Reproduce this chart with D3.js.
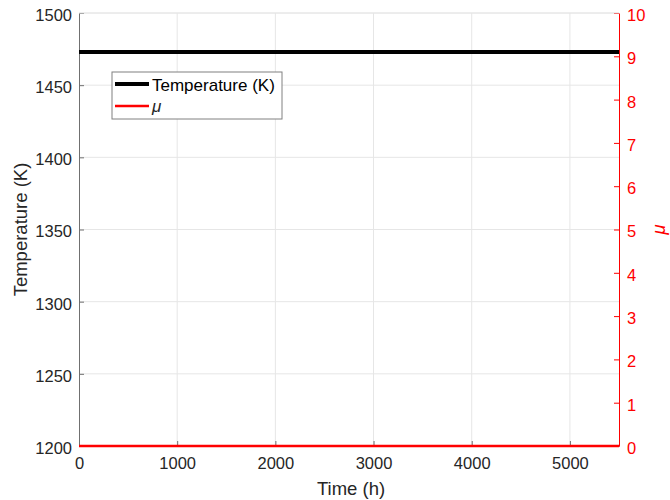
<!DOCTYPE html>
<html>
<head>
<meta charset="utf-8">
<script src="https://cdn.jsdelivr.net/npm/d3@7"></script>
<style>
  body { margin: 0; background: #fff; }
  text { font-family: "Liberation Sans", Arial, sans-serif; }
</style>
</head>
<body>
<div id="canvas"></div>
<script>
"use strict";

// Data
let timeHours = [0, 1000, 2000, 3000, 4000, 5000, 5500];
let temperatureK = [1473, 1473, 1473, 1473, 1473, 1473, 1473];
let muValues = [0, 0, 0, 0, 0, 0, 0];
let xTicks = [0, 1000, 2000, 3000, 4000, 5000];
let yLeftTicks = [1200, 1250, 1300, 1350, 1400, 1450, 1500];
let yRightTicks = [0, 1, 2, 3, 4, 5, 6, 7, 8, 9, 10];

let svgWidth = 670;
let svgHeight = 500;
let margin = { top: 13, right: 51, bottom: 54, left: 79 };
let chartWidth = svgWidth - margin.left - margin.right;
let chartHeight = svgHeight - margin.top - margin.bottom;

let svg = d3.select("#canvas")
  .append("svg")
  .attr("width", svgWidth)
  .attr("height", svgHeight);

let chartArea = svg.append("g")
  .attr("transform", "translate(" + margin.left + "," + margin.top + ")");

// Scales
let xScale = d3.scaleLinear().domain([0, 5500]).range([0, chartWidth]);
let yLeft = d3.scaleLinear().domain([1200, 1500]).range([chartHeight, 0]);
let yRight = d3.scaleLinear().domain([0, 10]).range([chartHeight, 0]);

// Grid
let gridColor = "#e6e6e6";
chartArea.append("g")
  .selectAll("line")
  .data(xTicks.slice(1))
  .enter().append("line")
  .attr("x1", d => xScale(d)).attr("x2", d => xScale(d))
  .attr("y1", 0).attr("y2", chartHeight)
  .attr("stroke", gridColor).attr("stroke-width", 1);
chartArea.append("g")
  .selectAll("line")
  .data(yLeftTicks.slice(1))
  .enter().append("line")
  .attr("x1", 0).attr("x2", chartWidth)
  .attr("y1", d => yLeft(d)).attr("y2", d => yLeft(d))
  .attr("stroke", gridColor).attr("stroke-width", 1);

// Axes (MATLAB style: inward ticks)
let axisColor = "#707070";
let textColor = "#262626";
let fmt = d3.format("d");

let xAxis = chartArea.append("g")
  .attr("transform", "translate(0," + chartHeight + ")")
  .call(d3.axisBottom(xScale).tickValues(xTicks).tickFormat(fmt).tickSize(-5).tickPadding(11).tickSizeOuter(0));
xAxis.select(".domain").attr("stroke", axisColor);
xAxis.selectAll("line").attr("stroke", axisColor);
xAxis.selectAll("text").attr("fill", textColor).style("font-size", "16.5px");

let yAxisL = chartArea.append("g")
  .call(d3.axisLeft(yLeft).tickValues(yLeftTicks).tickFormat(fmt).tickSize(-5).tickPadding(7).tickSizeOuter(0));
yAxisL.select(".domain").attr("stroke", axisColor);
yAxisL.selectAll("line").attr("stroke", axisColor);
yAxisL.selectAll("text").attr("fill", textColor).attr("dy", "0.45em").style("font-size", "16.5px");

let yAxisR = chartArea.append("g")
  .attr("transform", "translate(" + chartWidth + ",0)")
  .call(d3.axisRight(yRight).tickValues(yRightTicks).tickFormat(fmt).tickSize(-5).tickPadding(8).tickSizeOuter(0));
yAxisR.select(".domain").attr("stroke", "#ff0000");
yAxisR.selectAll("line").attr("stroke", "#ff0000");
yAxisR.selectAll("text").attr("fill", "#ff0000").attr("dy", "0.45em").style("font-size", "16.5px");

// Top edge of box
chartArea.append("line")
  .attr("x1", 0).attr("x2", chartWidth).attr("y1", 0).attr("y2", 0)
  .attr("stroke", gridColor);

// Lines
let tempLine = d3.line()
  .x((d, i) => xScale(timeHours[i]))
  .y(d => yLeft(d));
let muLine = d3.line()
  .x((d, i) => xScale(timeHours[i]))
  .y(d => yRight(d));

chartArea.append("path")
  .datum(temperatureK)
  .attr("d", tempLine)
  .attr("fill", "none").attr("stroke", "#000").attr("stroke-width", 4);

chartArea.append("path")
  .datum(muValues)
  .attr("d", muLine)
  .attr("fill", "none").attr("stroke", "#ff0000").attr("stroke-width", 2.5);

// Legend
let legend = svg.append("g").attr("transform", "translate(112,72)");
legend.append("rect")
  .attr("width", 170).attr("height", 47)
  .attr("fill", "#fff").attr("stroke", "#808080").attr("stroke-width", 1);
legend.append("line")
  .attr("x1", 3).attr("x2", 37).attr("y1", 12).attr("y2", 12)
  .attr("stroke", "#000").attr("stroke-width", 4);
legend.append("text")
  .attr("x", 40).attr("y", 19)
  .style("font-size", "17px").attr("fill", "#000")
  .text("Temperature (K)");
legend.append("line")
  .attr("x1", 3).attr("x2", 37).attr("y1", 34).attr("y2", 34)
  .attr("stroke", "#ff0000").attr("stroke-width", 2.5);
legend.append("text")
  .attr("x", 40).attr("y", 40)
  .style("font-size", "17px").style("font-style", "italic").attr("fill", "#262626")
  .text("μ");

// Axis labels
svg.append("text")
  .attr("x", margin.left + chartWidth / 2 + 2)
  .attr("y", 495)
  .attr("text-anchor", "middle")
  .style("font-size", "18.5px").attr("fill", textColor)
  .text("Time (h)");

svg.append("text")
  .attr("transform", "translate(27," + (margin.top + chartHeight / 2) + ") rotate(-90)")
  .attr("text-anchor", "middle")
  .style("font-size", "18.5px").attr("fill", textColor)
  .text("Temperature (K)");

svg.append("text")
  .attr("transform", "translate(665," + (margin.top + chartHeight / 2) + ") rotate(-90)")
  .attr("text-anchor", "middle")
  .style("font-size", "18.5px").style("font-style", "italic").attr("fill", "#ff0000")
  .text("μ");
</script>
</body>
</html>
